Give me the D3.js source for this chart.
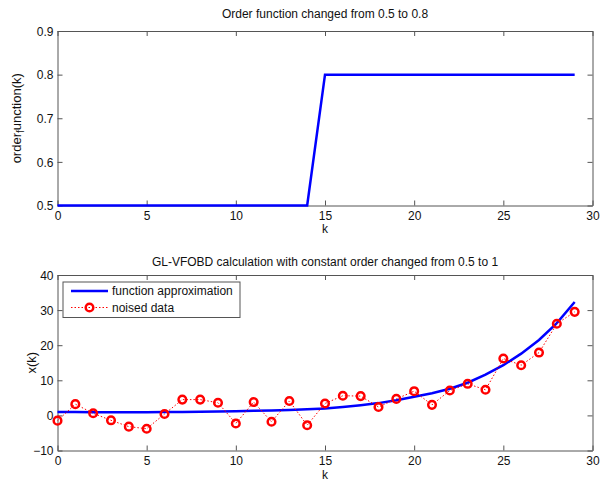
<!DOCTYPE html>
<html>
<head>
<meta charset="utf-8">
<script src="https://cdn.jsdelivr.net/npm/d3@7"></script>
<style>
  body { margin: 0; background: #fff; }
  svg { display: block; }
  text { font-family: "Liberation Sans", Arial, sans-serif; fill: #111; }
  .axis path, .axis line { stroke: #555; }
  .axis text { font-size: 12px; fill: #111; }
</style>
</head>
<body>
<svg id="chart" width="607" height="481"></svg>
<script>
// values
const kValues = d3.range(0, 30);
const orderValues = [0.5, 0.5, 0.5, 0.5, 0.5, 0.5, 0.5, 0.5, 0.5, 0.5,
  0.5, 0.5, 0.5, 0.5, 0.5, 0.8, 0.8, 0.8, 0.8, 0.8,
  0.8, 0.8, 0.8, 0.8, 0.8, 0.8, 0.8, 0.8, 0.8, 0.8];
const approxValues = [1.0, 0.95, 0.9, 0.9, 0.9, 0.9, 0.95, 1.0, 1.05, 1.1,
  1.2, 1.3, 1.4, 1.55, 1.75, 2.0, 2.4, 2.9, 3.5, 4.3,
  5.3, 6.3, 7.6, 9.3, 11.6, 14.3, 17.6, 21.5, 26.3, 32.3];
const noisedValues = [-1.5, 3.2, 0.6, -1.4, -3.2, -3.8, 0.4, 4.5, 4.5, 3.6,
  -2.3, 3.8, -1.8, 4.1, -2.8, 3.4, 5.6, 5.5, 2.4, 4.7,
  6.9, 3.0, 7.1, 9.0, 7.3, 16.2, 14.3, 17.9, 26.1, 29.5];
const xTicks = [0, 5, 10, 15, 20, 25, 30];
const topYTicks = [0.5, 0.6, 0.7, 0.8, 0.9];
const bottomYTicks = [-10, 0, 10, 20, 30, 40];
const topTitle = 'Order function changed from 0.5 to 0.8';
const bottomTitle = 'GL-VFOBD calculation with constant order changed from 0.5 to 1';
const legendLabels = ['function approximation', 'noised data'];

const svg = d3.select('#chart');
const left = 57.5, right = 592.5;

const drawFrame = (g, x, y, yTicks) => {
  const [y0, y1] = y.range();
  const tick = 5;
  g.append('g').attr('class', 'axis x-axis')
    .attr('transform', `translate(0,${y0})`)
    .call(d3.axisBottom(x).tickValues(xTicks).tickFormat(d3.format('d'))
      .tickSizeInner(-tick).tickSizeOuter(0).tickPadding(6));
  g.append('g').attr('class', 'axis')
    .attr('transform', `translate(0,${y1})`)
    .call(d3.axisTop(x).tickValues(xTicks).tickFormat('')
      .tickSizeInner(-tick).tickSizeOuter(0));
  g.append('g').attr('class', 'axis y-axis')
    .attr('transform', `translate(${left},0)`)
    .call(d3.axisLeft(y).tickValues(yTicks).tickFormat(d => d3.format('')(d))
      .tickSizeInner(-tick).tickSizeOuter(0).tickPadding(4));
  g.append('g').attr('class', 'axis')
    .attr('transform', `translate(${right},0)`)
    .call(d3.axisRight(y).tickValues(yTicks).tickFormat('')
      .tickSizeInner(-tick).tickSizeOuter(0));
  g.selectAll('.x-axis .tick text').attr('dy', '0.71em');
  g.selectAll('.y-axis .tick text').attr('dy', '0.35em');
};

// ---- top subplot
const xTop = d3.scaleLinear().domain([0, 30]).range([left, right]);
const yTop = d3.scaleLinear().domain([0.5, 0.9]).range([205.5, 31]);
const gTop = svg.append('g');
drawFrame(gTop, xTop, yTop, topYTicks);

gTop.append('path')
  .datum(kValues)
  .attr('fill', 'none')
  .attr('stroke', '#0000ff')
  .attr('stroke-width', 2.5)
  .attr('d', d3.line().x(k => xTop(k)).y(k => yTop(orderValues[k])));

gTop.append('text').attr('x', (left + right) / 2).attr('y', 18)
  .attr('text-anchor', 'middle').style('font-size', '12px').text(topTitle);
gTop.append('text').attr('x', (left + right) / 2).attr('y', 233)
  .attr('text-anchor', 'middle').style('font-size', '12px').text('k');
const yl = gTop.append('text')
  .attr('transform', `translate(21,${(31 + 205.5) / 2}) rotate(-90)`)
  .attr('text-anchor', 'middle').style('font-size', '13px');
yl.append('tspan').text('order');
yl.append('tspan').attr('dy', 3).style('font-size', '10px').text('f');
yl.append('tspan').attr('dy', -3).text('unction(k)');

// ---- bottom subplot
const xBot = d3.scaleLinear().domain([0, 30]).range([left, right]);
const yBot = d3.scaleLinear().domain([-10, 40]).range([450.5, 275]);
const gBot = svg.append('g');
drawFrame(gBot, xBot, yBot, bottomYTicks);

gBot.append('path')
  .datum(kValues)
  .attr('fill', 'none')
  .attr('stroke', '#0000ff')
  .attr('stroke-width', 2.5)
  .attr('d', d3.line().x(k => xBot(k)).y(k => yBot(approxValues[k])));

gBot.append('path')
  .datum(kValues)
  .attr('fill', 'none')
  .attr('stroke', '#ff0000')
  .attr('stroke-width', 1)
  .attr('stroke-dasharray', '1.5,2')
  .attr('d', d3.line().x(k => xBot(k)).y(k => yBot(noisedValues[k])));

gBot.selectAll('circle.pt')
  .data(kValues)
  .join('circle')
  .attr('class', 'pt')
  .attr('cx', k => xBot(k))
  .attr('cy', k => yBot(noisedValues[k]))
  .attr('r', 3.8)
  .attr('fill', 'none')
  .attr('stroke', '#ff0000')
  .attr('stroke-width', 2.5);

gBot.append('text').attr('x', (left + right) / 2).attr('y', 266)
  .attr('text-anchor', 'middle').style('font-size', '12px').text(bottomTitle);
gBot.append('text').attr('x', (left + right) / 2).attr('y', 479)
  .attr('text-anchor', 'middle').style('font-size', '12px').text('k');
gBot.append('text')
  .attr('transform', `translate(36,${(275 + 450.5) / 2}) rotate(-90)`)
  .attr('text-anchor', 'middle').style('font-size', '13px').text('x(k)');

// legend
const legend = gBot.append('g').attr('transform', 'translate(63,282)');
legend.append('rect').attr('width', 177).attr('height', 35.5)
  .attr('fill', '#fff').attr('stroke', '#555');
legend.append('line').attr('x1', 8).attr('x2', 45).attr('y1', 9).attr('y2', 9)
  .attr('stroke', '#0000ff').attr('stroke-width', 2.5);
legend.append('line').attr('x1', 8).attr('x2', 45).attr('y1', 25.5).attr('y2', 25.5)
  .attr('stroke', '#ff0000').attr('stroke-dasharray', '1.5,2');
legend.append('circle').attr('cx', 26.5).attr('cy', 25.5).attr('r', 3.8)
  .attr('fill', 'none').attr('stroke', '#ff0000').attr('stroke-width', 2.5);
legend.selectAll('text.lg')
  .data(legendLabels)
  .join('text')
  .attr('class', 'lg')
  .attr('x', 49)
  .attr('y', (d, i) => 9 + i * 16.5)
  .attr('dy', '0.35em')
  .style('font-size', '12px')
  .text(d => d);
</script>
</body>
</html>
